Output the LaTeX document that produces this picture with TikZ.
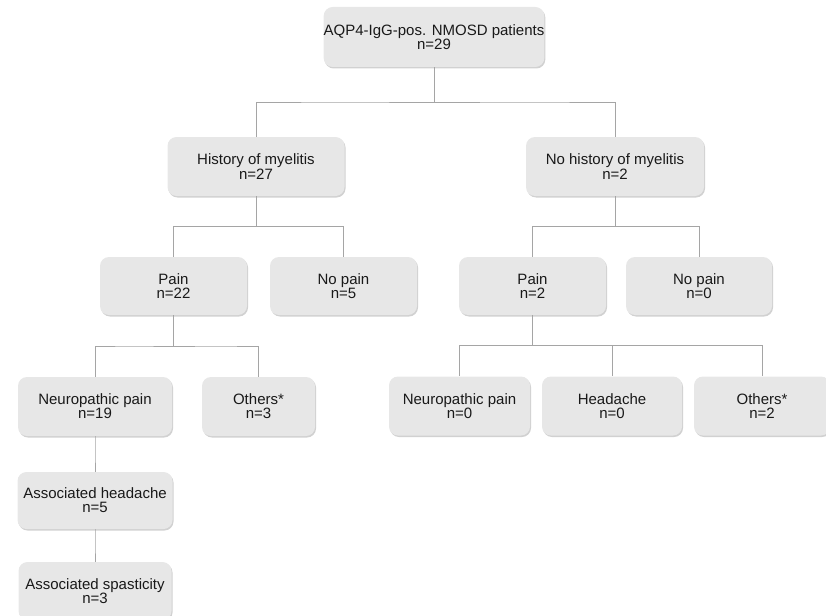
\documentclass[tikz,border=0pt]{standalone}
\usepackage{fontspec}
\setmainfont{Liberation Sans}
\usetikzlibrary{calc,shadows}
\definecolor{boxgray}{RGB}{231,231,231}
\definecolor{linegray}{RGB}{165,165,165}

\begin{document}
\begin{tikzpicture}
  [x=1pt,y=-1pt,
   box/.style={rectangle,rounded corners=9pt,fill=boxgray,align=center,inner sep=0pt,
     minimum height=59pt,font=\fontsize{15}{14.2}\selectfont,text=black!90,
     drop shadow={shadow xshift=1pt,shadow yshift=-1.5pt,fill=black!40,opacity=0.45}},
   link/.style={draw=linegray,line width=0.9pt}]
  \useasboundingbox (0,0) rectangle (826,615);

  \node[box,minimum width=218pt,minimum height=60pt] (n1) at (434,37) {AQP4-IgG-pos. NMOSD patients\\n=29};
  \node[box,minimum width=177pt] (n2) at (256,166.5) {History of myelitis\\n=27};
  \node[box,minimum width=178pt] (n3) at (615,166.5) {No history of myelitis\\n=2};
  \node[box,minimum width=147pt,minimum height=58pt] (n4) at (173.5,286) {Pain\\n=22};
  \node[box,minimum width=147pt,minimum height=58pt] (n5) at (343.5,286) {No pain\\n=5};
  \node[box,minimum width=147pt,minimum height=58pt] (n6) at (532.5,286) {Pain\\n=2};
  \node[box,minimum width=146pt,minimum height=58pt] (n7) at (699,286) {No pain\\n=0};
  \node[box,minimum width=154pt] (n8) at (95,406.5) {Neuropathic pain\\n=19};
  \node[box,minimum width=113pt] (n9) at (258.5,406.5) {Others*\\n=3};
  \node[box,minimum width=141pt] (n10) at (459.5,406) {Neuropathic pain\\n=0};
  \node[box,minimum width=140pt] (n11) at (612,406) {Headache\\n=0};
  \node[box,minimum width=136pt] (n12) at (762,406) {Others*\\n=2};
  \node[box,minimum width=155pt,minimum height=57pt] (n13) at (95,500.5) {Associated headache\\n=5};
  \node[box,minimum width=153pt,minimum height=58pt] (n14) at (95,591) {Associated spasticity\\n=3};

  \foreach \from/\to in {n1/n2,n1/n3,n2/n4,n2/n5,n3/n6,n3/n7,n4/n8,n4/n9,n6/n10,n6/n11,n6/n12,n8/n13,n13/n14}
    \draw[link] (\from.south) |- ($(\from.south)!0.5!(\to.north)$) -| (\to.north);
\end{tikzpicture}
\end{document}
